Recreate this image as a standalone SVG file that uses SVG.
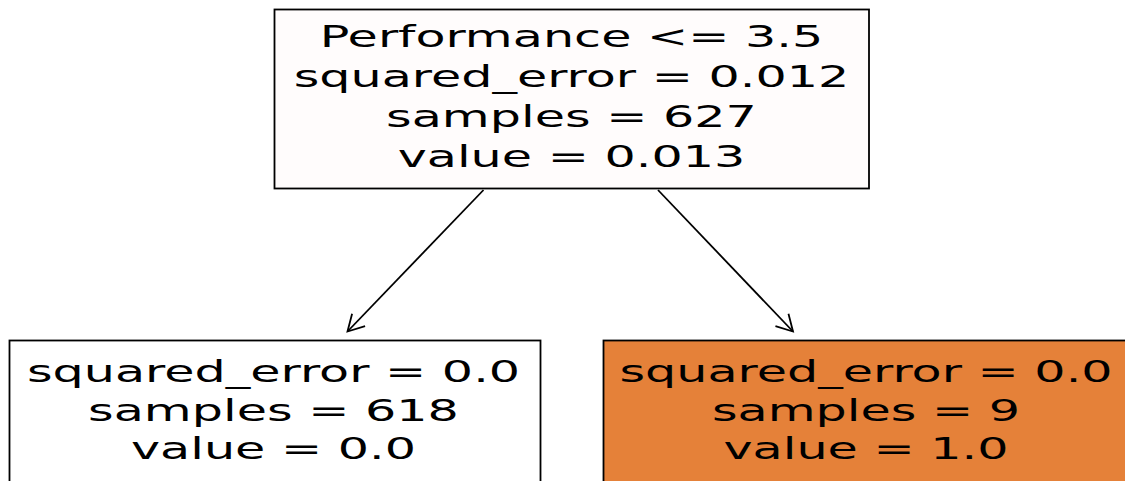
<svg xmlns="http://www.w3.org/2000/svg" width="1125" height="481" viewBox="0 0 1125 481">
<defs>
<style>
.box{stroke:#000;stroke-width:1.8}
.lbl{font-family:"DejaVu Sans",sans-serif;font-size:30px;fill:#000;text-anchor:middle}
.edge{stroke:#000;stroke-width:1.8;fill:none}
</style>
<marker id="ah" markerUnits="userSpaceOnUse" markerWidth="40" markerHeight="40" viewBox="-20 -20 40 40" refX="0" refY="0" orient="auto">
<path d="M-16,-9 L0,0 L-16,9" fill="none" stroke="#000" stroke-width="1.8"/>
</marker>
</defs>
<rect width="1125" height="481" fill="#fff"/>
<g id="connectors">
<line class="edge" x1="483.5" y1="190" x2="347.5" y2="331.5" marker-end="url(#ah)"/>
<line class="edge" x1="658" y1="190" x2="793" y2="331.5" marker-end="url(#ah)"/>
</g>
<g id="root">
<rect class="box" x="274.5" y="9.5" width="594.5" height="179" fill="#fffcfc"/>
<g transform="translate(571.5,0) scale(1.64,1)">
<text class="lbl"><tspan x="0" y="47">Performance &lt;= 3.5</tspan><tspan x="0" y="87">squared_error = 0.012</tspan><tspan x="0" y="127">samples = 627</tspan><tspan x="0" y="167">value = 0.013</tspan></text>
</g>
</g>
<g id="leaf-left">
<rect class="box" x="9.5" y="340.5" width="531" height="170" fill="#fff"/>
<g transform="translate(273.5,0) scale(1.64,1)">
<text class="lbl"><tspan x="0" y="382">squared_error = 0.0</tspan><tspan x="0" y="421">samples = 618</tspan><tspan x="0" y="459">value = 0.0</tspan></text>
</g>
</g>
<g id="leaf-right">
<rect class="box" x="603.5" y="340.5" width="531" height="170" fill="#e58139"/>
<g transform="translate(866,0) scale(1.64,1)">
<text class="lbl"><tspan x="0" y="382">squared_error = 0.0</tspan><tspan x="0" y="421">samples = 9</tspan><tspan x="0" y="459">value = 1.0</tspan></text>
</g>
</g>
</svg>
